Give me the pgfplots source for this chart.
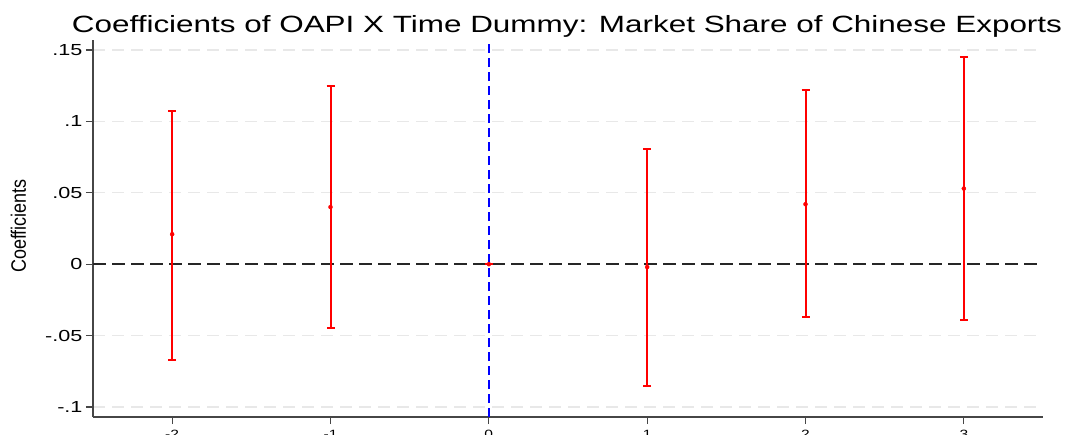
\documentclass[border=0pt]{standalone}
\usepackage{pgfplots}
\pgfplotsset{compat=1.18}
\usepackage{graphicx}
\usepackage{fontspec}
\setmainfont{Liberation Sans}
\definecolor{axgray}{RGB}{70,70,70}
\definecolor{gridgray}{RGB}{232,232,232}
\newcommand{\ytl}[1]{\fontsize{16}{18}\selectfont\scalebox{1.35}[1]{#1}}
\newcommand{\xtl}[1]{\fontsize{12}{13}\selectfont\scalebox{1.3}[1]{#1}}
\begin{document}
\begin{tikzpicture}[x=1pt,y=1pt]
\useasboundingbox (0,0) rectangle (1066,-434);
\begin{axis}[
  at={(93pt,-417pt)}, anchor=south west,
  scale only axis, width=950pt, height=377pt,
  xmin=-2.5, xmax=3.5, ymin=-0.107, ymax=0.157,
  axis lines=left,
  axis line style={-, draw=axgray, line width=1.3pt},
  tick align=outside,
  xtick={-2,-1,0,1,2,3},
  xticklabels={\xtl{-2},\xtl{-1},\xtl{0},\xtl{1},\xtl{2},\xtl{3}},
  xticklabel style={yshift=-3pt},
  ytick={-0.1,-0.05,0,0.05,0.1,0.15},
  yticklabels={\ytl{-.1},\ytl{-.05},\ytl{0},\ytl{.05},\ytl{.1},\ytl{.15}},
  ytick style={draw=axgray, line width=1.1pt},
  xtick style={draw=axgray, line width=1.1pt},
  major tick length=7pt,
  ymajorgrids,
  major grid style={draw=gridgray, line width=1.2pt, dash pattern=on 12pt off 7pt},
  clip=false,
]
\pgfplotstableread{
x y ep em
-2 0.021 0.086 0.088
-1 0.040 0.085 0.085
0 0.000 0.000 0.000
1 -0.002 0.083 0.083
2 0.042 0.080 0.079
3 0.053 0.092 0.092
}\coef
\addplot[draw=black!85, line width=1.5pt, dash pattern=on 12.5pt off 6.5pt] coordinates {(-2.5,0) (3.5,0)};
\addplot[draw=blue, line width=1.8pt, dash pattern=on 9pt off 5pt] coordinates {(0,-0.107) (0,0.157)};
\addplot[only marks, draw=red, fill=red, mark=*, mark size=2pt,
  error bars/.cd, y dir=both, y explicit,
  error bar style={draw=red, line width=2pt},
  error mark options={draw=red, line width=2pt, mark size=4pt, rotate=90}]
  table[x=x, y=y, y error plus=ep, y error minus=em] {\coef};
\end{axis}
\node[anchor=base] at (567,-32) {\fontsize{23.5}{26}\selectfont\resizebox{990pt}{\height}{Coefficients of OAPI X Time Dummy: Market Share of Chinese Exports}};
\node[rotate=90, anchor=center] at (18.5,-226) {\fontsize{18}{20}\selectfont\scalebox{1}[1.16]{Coefficients}};
\end{tikzpicture}
\end{document}
